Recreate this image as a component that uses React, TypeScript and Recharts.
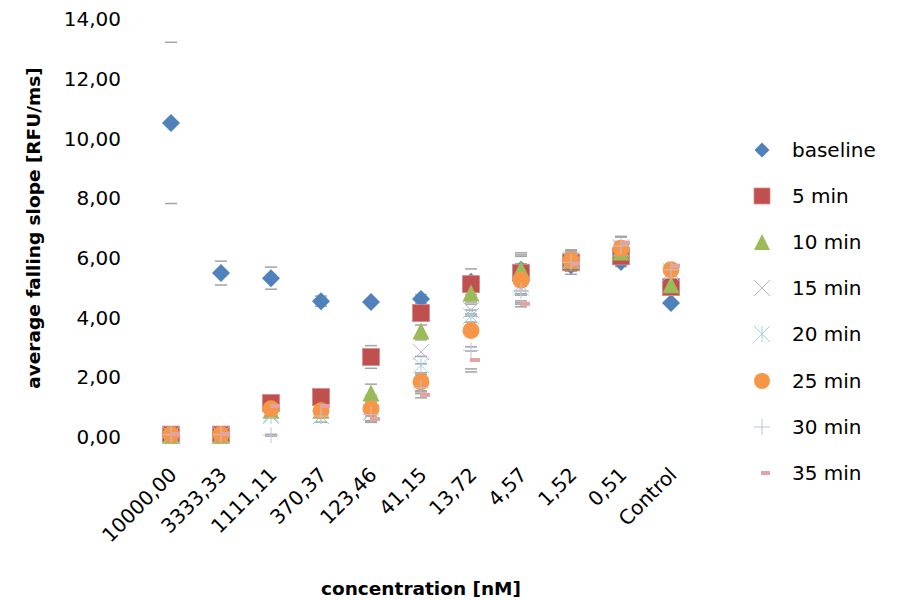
import React from 'react';
import { ComposedChart, Scatter, XAxis, YAxis, ErrorBar } from 'recharts';

const CATEGORIES = ['10000,00', '3333,33', '1111,11', '370,37', '123,46', '41,15', '13,72', '4,57', '1,52', '0,51', 'Control'];
const Y_TICKS = [0, 2, 4, 6, 8, 10, 12, 14];

const BASELINE = [10.52, 5.49, 5.32, 4.55, 4.52, 4.62, 5.2, 5.6, 5.75, 5.86, 4.49];
const MIN5 = [0.08, 0.08, 1.14, 1.34, 2.68, 4.15, 5.12, 5.5, 5.85, 6.05, 5.02];
const MIN10 = [0.06, 0.06, 0.9, 0.9, 1.47, 3.55, 4.82, 5.62, 5.9, 6.2, 5.1];
const MIN15 = [0.06, 0.06, 0.75, 0.7, 0.85, 2.85, 4.25, 5.1, 5.95, 6.35, 5.55];
const MIN20 = [0.06, 0.06, 0.7, 0.7, 0.8, 2.4, 4.05, 5.0, 5.9, 6.3, 5.5];
const MIN25 = [0.08, 0.08, 0.95, 0.88, 0.94, 1.85, 3.57, 5.25, 5.92, 6.32, 5.6];
const MIN30 = [0.08, 0.08, 0.06, 0.7, 0.75, 1.65, 2.9, 4.9, 5.85, 6.4, 5.6];
const MIN35 = [0.1, 0.1, 1.04, 1.04, 0.6, 1.41, 2.58, 4.46, 5.8, 6.5, 5.73];

const BASELINE_ERR = [2.7, 0.4, 0.37, 0.17, 0, 0.15, 0.43, 0.2, 0.2, 0.15, 0];
const MIN5_ERR = [0, 0, 0.15, 0, 0.38, 0.2, 0.25, 0.6, 0.4, 0.25, 0.15];
const MIN10_ERR = [0, 0, 0, 0.1, 0.3, 0.2, 0.3, 0.55, 0.3, 0.3, 0.1];
const MIN15_ERR = [0, 0, 0, 0, 0, 0.4, 0.2, 0.3, 0.2, 0.2, 0];
const MIN20_ERR = [0, 0, 0, 0, 0, 0.3, 0.2, 0.25, 0.2, 0.2, 0];
const MIN25_ERR = [0, 0, 0.1, 0.2, 0.45, 0.3, 0.55, 0.8, 0.35, 0.4, 0.2];
const MIN30_ERR = [0, 0, 0.03, 0.2, 0.2, 0.2, 0.72, 0.4, 0.3, 0.3, 0];
const MIN35_ERR = [0, 0, 0, 0, 0.1, 0.1, 0.3, 0.1, 0.2, 0.2, 0];

const FONT = '"DejaVu Sans", sans-serif';

const diamond = (color: string, r: number) => (p: any) => (
  <polygon points={`${p.cx},${p.cy - r} ${p.cx + r},${p.cy} ${p.cx},${p.cy + r} ${p.cx - r},${p.cy}`} fill={color} />
);
const square = (color: string, r: number) => (p: any) => (
  <rect x={p.cx - r} y={p.cy - r} width={2 * r} height={2 * r} fill={color} stroke="#d88c8a" strokeWidth={0.8} />
);
const triangle = (color: string, r: number) => (p: any) => (
  <polygon points={`${p.cx},${p.cy - r} ${p.cx + r},${p.cy + r} ${p.cx - r},${p.cy + r}`} fill={color} />
);
const circle = (color: string, r: number) => (p: any) => <circle cx={p.cx} cy={p.cy} r={r} fill={color} />;
const cross = (color: string, r: number) => (p: any) => (
  <g stroke={color} strokeWidth={1}>
    <line x1={p.cx - r} y1={p.cy - r} x2={p.cx + r} y2={p.cy + r} />
    <line x1={p.cx - r} y1={p.cy + r} x2={p.cx + r} y2={p.cy - r} />
  </g>
);
const star = (color: string, r: number) => (p: any) => (
  <g stroke={color} strokeWidth={1}>
    <line x1={p.cx - r} y1={p.cy - r} x2={p.cx + r} y2={p.cy + r} />
    <line x1={p.cx - r} y1={p.cy + r} x2={p.cx + r} y2={p.cy - r} />
    <line x1={p.cx} y1={p.cy - r} x2={p.cx} y2={p.cy + r} />
  </g>
);
const plus = (color: string, r: number) => (p: any) => (
  <g stroke={color} strokeWidth={1}>
    <line x1={p.cx - r} y1={p.cy} x2={p.cx + r} y2={p.cy} />
    <line x1={p.cx} y1={p.cy - r} x2={p.cx} y2={p.cy + r} />
  </g>
);
const dash = (color: string, r: number) => (p: any) => (
  <rect x={p.cx - 1} y={p.cy - 2} width={r + 2} height={4} fill={color} />
);

const SERIES = [
  { key: 'baseline', name: 'baseline', values: BASELINE, err: BASELINE_ERR, color: '#4F81BD', make: diamond },
  { key: 'm5', name: '5 min', values: MIN5, err: MIN5_ERR, color: '#C0504D', make: square },
  { key: 'm10', name: '10 min', values: MIN10, err: MIN10_ERR, color: '#9BBB59', make: triangle },
  { key: 'm15', name: '15 min', values: MIN15, err: MIN15_ERR, color: '#B9B0D4', make: cross },
  { key: 'm20', name: '20 min', values: MIN20, err: MIN20_ERR, color: '#9CD3E0', make: star },
  { key: 'm25', name: '25 min', values: MIN25, err: MIN25_ERR, color: '#F79646', make: circle },
  { key: 'm30', name: '30 min', values: MIN30, err: MIN30_ERR, color: '#BEC4DE', make: plus },
  { key: 'm35', name: '35 min', values: MIN35, err: MIN35_ERR, color: '#E3A3A3', make: dash },
];

const MARK_R = [9, 8.5, 8.5, 8, 8, 8.5, 8, 8];
const LEGEND_R = [7.5, 8, 8, 8, 8, 8, 8, 7];

const rows = CATEGORIES.map((cat, i) => {
  const row: any = { cat };
  SERIES.forEach((s) => {
    row[s.key] = s.values[i];
    row[s.key + '_err'] = s.err[i];
  });
  return row;
});

const fmt = (v: number) => v.toFixed(2).replace('.', ',');

const XTick = ({ x, y, payload }: any) => {
  const ax = x + 7;
  const ay = y + 39;
  return (
    <text x={ax} y={ay} transform={`rotate(-45 ${ax} ${ay})`} textAnchor="end" fontSize={20} fontFamily={FONT} fill="#000">
      {payload.value}
    </text>
  );
};

const Legend = () => (
  <div style={{ position: 'absolute', left: 745, top: 127 }}>
    {SERIES.map((s, i) => (
      <div key={s.key} style={{ display: 'flex', alignItems: 'center', height: 46.1 }}>
        <svg width={34} height={24} style={{ marginRight: 13 }}>
          {s.make(s.color, LEGEND_R[i])({ cx: 17, cy: 12 })}
        </svg>
        <span style={{ fontFamily: FONT, fontSize: 20, color: '#000', whiteSpace: 'nowrap' }}>{s.name}</span>
      </div>
    ))}
  </div>
);

export default function App() {
  return (
    <div style={{ position: 'relative', width: 903, height: 600, background: '#fff' }}>
      <style>{'body{margin:0} .recharts-errorBar line:nth-child(2){display:none}'}</style>
      <ComposedChart width={903} height={600} data={rows} margin={{ top: 19, right: 207, bottom: 63, left: 66 }}>
        <XAxis
          dataKey="cat"
          type="category"
          interval={0}
          height={100}
          padding={{ left: 25, right: 25 }}
          axisLine={false}
          tickLine={false}
          tickSize={0}
          tickMargin={0}
          tick={<XTick />}
        />
        <YAxis
          type="number"
          domain={[0, 14]}
          ticks={Y_TICKS}
          width={80}
          axisLine={false}
          tickLine={false}
          tickSize={0}
          tickMargin={25}
          tickFormatter={fmt}
          tick={{ fontSize: 20, fontFamily: FONT, fill: '#000' }}
        />
        {SERIES.map((s, i) => (
          <Scatter key={s.key} name={s.name} dataKey={s.key} fill={s.color} shape={s.make(s.color, MARK_R[i])} isAnimationActive={false}>
            <ErrorBar dataKey={s.key + '_err'} direction="y" width={6} stroke="#a3a3a3" strokeWidth={1.5} isAnimationActive={false} />
          </Scatter>
        ))}
      </ComposedChart>
      <div
        style={{
          position: 'absolute',
          left: 33,
          top: 228,
          transform: 'translate(-50%, -50%) rotate(-90deg)',
          whiteSpace: 'nowrap',
          fontFamily: FONT,
          fontWeight: 'bold',
          fontSize: 18.5,
          color: '#000',
        }}
      >
        average falling slope [RFU/ms]
      </div>
      <div
        style={{
          position: 'absolute',
          left: 421,
          top: 588,
          transform: 'translate(-50%, -50%)',
          whiteSpace: 'nowrap',
          fontFamily: FONT,
          fontWeight: 'bold',
          fontSize: 18.5,
          color: '#000',
        }}
      >
        concentration [nM]
      </div>
      <Legend />
    </div>
  );
}
